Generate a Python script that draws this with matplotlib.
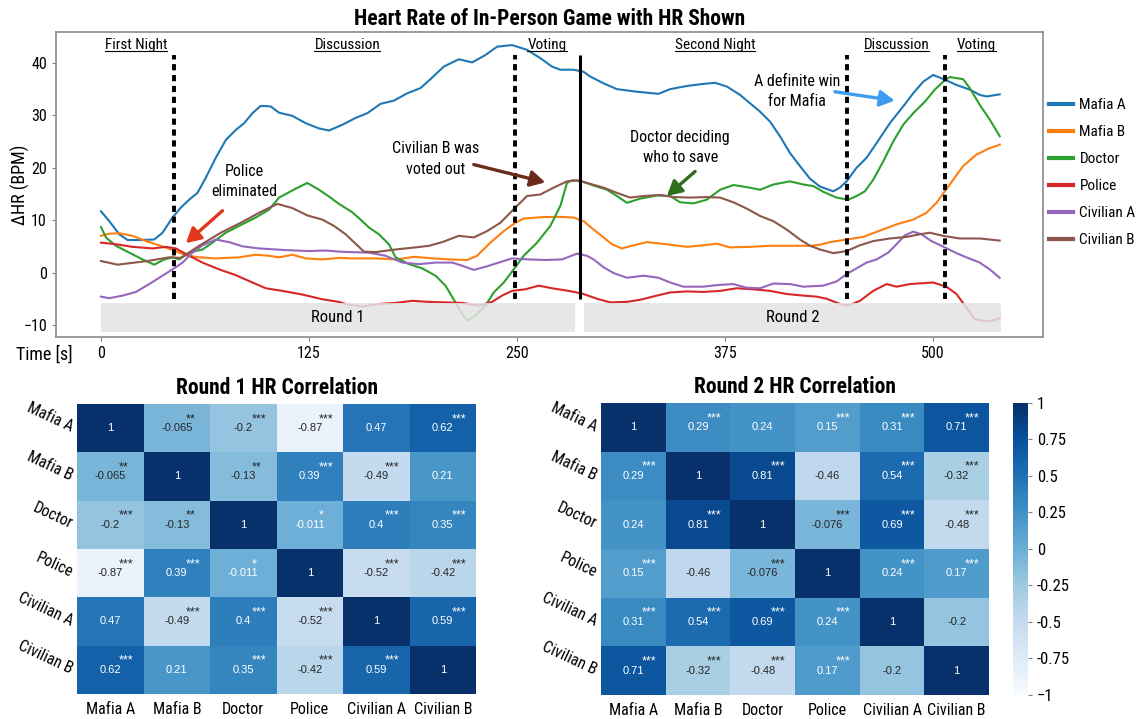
"""Heart rate of an in-person Mafia game (HR shown) plus per-round HR correlation heatmaps."""
import numpy as np
import matplotlib
matplotlib.use("Agg")
import matplotlib.pyplot as plt
from matplotlib import font_manager
from matplotlib.colors import Normalize
from matplotlib.patches import Rectangle
import seaborn as sns
from seaborn.utils import relative_luminance

_names = {f.name for f in font_manager.fontManager.ttflist}
NARROW = next((n for n in ["Liberation Sans Narrow", "Roboto Condensed", "Open Sans Condensed",
                           "Liberation Sans"] if n in _names), "DejaVu Sans")
plt.rcParams["font.family"] = [NARROW, "DejaVu Sans"]

# --- data -------------------------------------------------------------------------------
ROLES = ["Mafia A", "Mafia B", "Doctor", "Police", "Civilian A", "Civilian B"]
COLORS = ["#1f77b4", "#ff7f0e", "#2ca02c", "#d62728", "#9467bd", "#8c564b"]

# (time [s], delta HR [BPM])
MAFIA_A = [(0, 11.7), (5, 9.8), (11, 7.3), (16, 6.2), (23, 6.2), (32, 6.3), (37, 7.6), (43, 10.5),
           (48, 12.4), (53, 13.9), (58, 15.2), (63, 18.1), (69, 21.9), (75, 25.3), (81, 27.2),
           (86, 28.5), (91, 30.4), (96, 31.8), (102, 31.7), (107, 30.5), (115, 29.9), (123, 28.5),
           (131, 27.5), (137, 27.1), (145, 28.2), (153, 29.5), (160, 30.4), (168, 32.2), (176, 32.8),
           (184, 34.2), (192, 35.2), (198, 36.9), (206, 39.3), (215, 40.7), (223, 40.1), (231, 41.5),
           (238, 43.1), (247, 43.4), (256, 42.5), (264, 40.9), (271, 39.3), (276, 38.7), (284, 38.7),
           (290, 38.3), (294, 37.4), (302, 36.1), (310, 35.0), (322, 34.5), (335, 34.1), (342, 35.0),
           (352, 35.6), (362, 36.0), (369, 36.2), (376, 35.5), (384, 33.9), (390, 32.3), (396, 30.7),
           (402, 28.8), (408, 26.0), (414, 22.8), (420, 20.3), (426, 17.9), (432, 16.4), (440, 15.5),
           (444, 16.2), (448, 17.4), (454, 20.0), (460, 21.9), (466, 24.7), (474, 28.5), (482, 31.7),
           (488, 34.2), (494, 36.4), (500, 37.7), (507, 36.8), (514, 35.8), (522, 34.9), (528, 33.9),
           (532, 33.6), (540, 34.0)]
MAFIA_B = [(0, 7.0), (5, 7.4), (11, 7.5), (19, 7.0), (27, 6.0), (35, 5.2), (43, 4.3), (51, 3.3),
           (59, 2.9), (69, 2.7), (83, 2.9), (93, 3.4), (101, 3.2), (107, 2.9), (115, 3.4), (123, 2.7),
           (133, 2.5), (143, 2.8), (150, 2.7), (164, 2.7), (178, 2.5), (188, 3.0), (200, 2.7),
           (210, 2.5), (220, 2.4), (226, 3.2), (234, 5.7), (242, 7.9), (249, 9.5), (254, 10.3),
           (266, 10.6), (278, 10.6), (284, 10.5), (290, 9.8), (296, 8.2), (302, 6.7), (307, 5.4),
           (313, 4.6), (320, 5.2), (328, 5.8), (340, 5.4), (352, 4.9), (362, 5.2), (370, 5.5),
           (378, 4.8), (390, 4.9), (402, 5.1), (418, 5.1), (426, 5.1), (432, 5.3), (438, 5.8),
           (448, 6.3), (458, 6.8), (468, 8.0), (478, 9.2), (488, 10.1), (496, 11.4), (502, 13.3),
           (507, 15.5), (512, 17.7), (518, 20.3), (526, 22.5), (533, 23.6), (540, 24.4)]
DOCTOR = [(0, 8.7), (3, 6.7), (9, 5.1), (17, 3.8), (25, 2.5), (32, 1.5), (38, 2.5), (43, 2.9),
          (47, 2.5), (53, 3.8), (61, 4.4), (67, 5.7), (75, 7.6), (83, 8.9), (93, 10.5), (101, 12.0),
          (107, 14.3), (117, 16.0), (124, 17.1), (131, 15.8), (137, 14.5), (143, 13.1), (151, 11.5),
          (157, 9.8), (161, 8.6), (167, 7.3), (173, 5.4), (177, 2.9), (185, 1.6), (193, 0.8),
          (201, -0.6), (207, -2.5), (213, -5.7), (217, -7.9), (220, -9.1), (225, -8.2), (231, -6.3),
          (236, -3.8), (242, -1.9), (248, 0.6), (254, 3.2), (262, 5.7), (270, 8.9), (276, 12.7),
          (280, 17.1), (283, 17.6), (289, 17.4), (296, 16.6), (304, 15.8), (310, 14.6), (316, 13.3),
          (324, 14.1), (334, 14.7), (342, 14.6), (348, 13.4), (356, 13.2), (364, 13.9), (372, 15.8),
          (380, 16.7), (388, 16.3), (396, 15.8), (404, 16.8), (414, 17.4), (422, 16.8), (428, 16.5),
          (434, 15.4), (442, 14.3), (449, 13.9), (454, 14.6), (459, 15.5), (464, 17.7), (470, 21.2),
          (476, 25.0), (482, 28.2), (488, 30.4), (495, 32.6), (501, 34.9), (506, 36.4), (510, 37.3),
          (518, 36.9), (522, 35.2), (528, 32.0), (534, 29.2), (540, 26.0)]
POLICE = [(0, 5.7), (9, 5.4), (19, 4.9), (31, 4.6), (39, 4.9), (45, 4.6), (53, 3.2), (61, 1.9),
          (71, 0.6), (81, -0.5), (91, -1.9), (99, -3.0), (109, -3.5), (121, -4.2), (133, -5.1),
          (143, -5.6), (147, -6.0), (157, -6.5), (167, -6.0), (177, -5.8), (187, -5.4), (197, -5.6),
          (207, -5.7), (217, -5.8), (227, -6.3), (235, -5.6), (241, -4.4), (247, -3.5), (255, -3.2),
          (263, -2.5), (271, -3.0), (281, -3.5), (289, -4.0), (298, -5.0), (306, -5.7), (316, -5.6),
          (324, -5.2), (334, -4.4), (342, -3.8), (352, -3.6), (362, -3.7), (372, -3.5), (382, -3.0),
          (392, -3.2), (402, -3.5), (412, -4.1), (422, -4.4), (430, -4.6), (436, -5.0), (444, -6.0),
          (449, -6.3), (456, -5.4), (464, -3.5), (472, -2.2), (478, -2.7), (486, -2.2), (500, -1.9),
          (508, -2.7), (514, -4.1), (520, -6.7), (525, -8.9), (532, -9.3), (537, -9.1), (540, -8.7)]
CIVILIAN_A = [(0, -4.6), (5, -4.9), (13, -4.4), (21, -3.7), (29, -2.2), (37, -0.6), (44, 0.8),
              (49, 1.9), (55, 3.8), (61, 5.2), (69, 6.3), (77, 5.8), (85, 5.0), (95, 4.6),
              (110, 4.3), (125, 4.1), (135, 4.2), (143, 4.0), (150, 3.9), (161, 3.8), (171, 3.2),
              (181, 1.9), (191, 1.6), (201, 1.9), (211, 1.9), (217, 1.3), (224, 0.5), (231, 1.1),
              (239, 1.9), (247, 2.7), (257, 2.5), (267, 2.4), (277, 2.5), (286, 3.6), (292, 3.2),
              (296, 2.5), (302, 1.0), (308, -0.1), (316, -1.0), (326, -0.6), (335, -1.0), (342, -1.9),
              (350, -2.7), (362, -2.7), (370, -2.4), (380, -2.2), (388, -2.9), (396, -3.0),
              (404, -2.1), (414, -2.2), (422, -2.7), (434, -2.5), (442, -1.7), (448, -0.3), (454, 0.8),
              (460, 1.9), (466, 2.5), (473, 3.8), (478, 5.4), (483, 7.1), (488, 7.8), (493, 7.3),
              (499, 6.0), (507, 4.8), (514, 3.7), (520, 2.9), (528, 1.9), (534, 0.6), (540, -1.0)]
CIVILIAN_B = [(0, 2.2), (10, 1.5), (28, 2.2), (41, 2.9), (48, 2.8), (59, 5.1), (72, 7.6), (84, 9.5),
              (95, 11.4), (106, 13.1), (115, 12.3), (124, 10.9), (133, 10.1), (140, 8.9), (147, 7.3),
              (153, 5.5), (158, 4.0), (165, 3.9), (177, 4.4), (189, 4.8), (197, 5.1), (205, 5.8),
              (215, 7.0), (224, 6.7), (232, 7.9), (240, 9.5), (249, 12.4), (256, 14.6), (264, 14.9),
              (272, 16.2), (280, 17.4), (286, 17.6), (292, 17.1), (302, 16.2), (310, 15.2),
              (318, 14.3), (326, 14.6), (336, 14.8), (344, 14.4), (354, 14.3), (364, 14.4),
              (372, 14.3), (380, 13.4), (388, 12.2), (396, 10.8), (404, 9.8), (412, 8.2), (420, 6.3),
              (426, 5.1), (432, 4.4), (440, 3.7), (448, 4.1), (456, 5.2), (464, 6.0), (474, 6.5),
              (484, 6.8), (492, 7.3), (498, 7.6), (506, 7.0), (516, 6.5), (528, 6.5), (540, 6.1)]
SERIES = [MAFIA_A, MAFIA_B, DOCTOR, POLICE, CIVILIAN_A, CIVILIAN_B]

PHASE_DIVIDERS = [44, 249, 448, 507]      # dashed lines
ROUND_DIVIDER = 288                        # solid line
PHASES = [("First Night", 21), ("Discussion", 148), ("Voting", 268),
          ("Second Night", 369), ("Discussion", 478), ("Voting", 526)]
ROUNDS = [("Round 1", 0, 285), ("Round 2", 290, 541)]

ROUND1_R = [[1, -0.065, -0.2, -0.87, 0.47, 0.62],
            [-0.065, 1, -0.13, 0.39, -0.49, 0.21],
            [-0.2, -0.13, 1, -0.011, 0.4, 0.35],
            [-0.87, 0.39, -0.011, 1, -0.52, -0.42],
            [0.47, -0.49, 0.4, -0.52, 1, 0.59],
            [0.62, 0.21, 0.35, -0.42, 0.59, 1]]
ROUND1_SIG = [["", "**", "***", "***", "", "***"],
              ["**", "", "**", "***", "***", ""],
              ["***", "**", "", "*", "***", "***"],
              ["***", "***", "*", "", "***", "***"],
              ["", "***", "***", "***", "", "***"],
              ["***", "", "***", "***", "***", ""]]
ROUND2_R = [[1, 0.29, 0.24, 0.15, 0.31, 0.71],
            [0.29, 1, 0.81, -0.46, 0.54, -0.32],
            [0.24, 0.81, 1, -0.076, 0.69, -0.48],
            [0.15, -0.46, -0.076, 1, 0.24, 0.17],
            [0.31, 0.54, 0.69, 0.24, 1, -0.2],
            [0.71, -0.32, -0.48, 0.17, -0.2, 1]]
ROUND2_SIG = [["", "***", "", "***", "***", "***"],
              ["***", "", "***", "", "***", "***"],
              ["", "***", "", "***", "***", "***"],
              ["***", "", "***", "", "***", "***"],
              ["***", "***", "***", "***", "", ""],
              ["***", "***", "***", "***", "", ""]]

CBAR_TICKS = [-1, -0.75, -0.5, -0.25, 0, 0.25, 0.5, 0.75, 1]
CBAR_LABELS = ["\u22121", "-0.75", "-0.5", "-0.25", "0", "0.25", "0.5", "0.75", "1"]

# --- figure -------------------------------------------------------------------------------
fig = plt.figure(figsize=(11.41, 7.19), dpi=100)
ax = fig.add_axes([0.0491, 0.5313, 0.865, 0.4242])

for data, name, c in zip(SERIES, ROLES, COLORS):
    t, hr = np.array(data).T
    ax.plot(t, hr, color=c, lw=1.5, label=name, zorder=2)

for x in PHASE_DIVIDERS:
    ax.vlines(x, -5.0, 41.5, colors="black", linestyles=(0, (1.6, 1.2)), lw=2.8, zorder=4)
ax.vlines(ROUND_DIVIDER, -5.0, 41.5, colors="black", lw=2.2, zorder=4)

for label, x0, x1 in ROUNDS:
    ax.add_patch(Rectangle((x0, -11.35), x1 - x0, 5.5, facecolor="#e3e3e3", alpha=0.85,
                           edgecolor="none", zorder=3))
    ax.text((x0 + x1) / 2, -8.6, label, ha="center", va="center", fontsize=12, zorder=5)

phase_txt = [ax.text(x, 42.6, s, ha="center", va="baseline", fontsize=11) for s, x in PHASES]

# annotations: (text, text pos, arrow tail, arrow head, colour)
NOTES = [("Police\neliminated", (86, 17.4), (73, 11.8), (51, 5.6), "#e4361f"),
         ("Civilian B was\nvoted out", (201, 21.7), (224, 20.6), (267, 17.2), "#6b2b1c"),
         ("Doctor deciding\nwho to save", (348, 23.9), (357, 19.3), (340, 14.6), "#2f6e1e"),
         ("A definite win\nfor Mafia", (418, 34.5), (441, 34.5), (477, 32.8), "#3d9cf0")]
for s, tp, tail, head, c in NOTES:
    ax.text(*tp, s, ha="center", va="center", fontsize=11.5, linespacing=1.45, zorder=5)
    ax.annotate("", xy=head, xytext=tail,
                arrowprops=dict(arrowstyle="-|>,head_length=0.55,head_width=0.3", color=c,
                                lw=2.4, mutation_scale=16, shrinkA=0, shrinkB=0), zorder=5)

ax.set_xlim(-27, 566)
ax.set_ylim(-12.3, 45.9)
ax.set_xticks([0, 125, 250, 375, 500])
ax.set_yticks([-10, 0, 10, 20, 30, 40])
ax.tick_params(labelsize=11.5, color="#7f7f7f", length=3)
for sp in ax.spines.values():
    sp.set_color("#8a8a8a")
    sp.set_linewidth(1.2)
ax.set_ylabel("\u0394HR (BPM)", fontsize=13)
ax.yaxis.set_label_coords(-0.0265, 0.5)
fig.text(16 / 1141, 1 - 355 / 719, "Time [s]", fontsize=13, va="center", ha="left")
ax.set_title("Heart Rate of In-Person Game with HR Shown", fontsize=15.5, fontweight="bold", pad=5)

leg = ax.legend(loc="center left", bbox_to_anchor=(1.006, 0.538), frameon=False, fontsize=11,
                borderaxespad=0, borderpad=0, handlelength=1.6, handletextpad=0.4,
                labelspacing=0.85)
for h in leg.get_lines():
    h.set_linewidth(3)

# underline the phase names
fig.canvas.draw()
renderer = fig.canvas.get_renderer()
inv = ax.transData.inverted()
for txt in phase_txt:
    bb = txt.get_window_extent(renderer)
    (x0, _), (x1, _) = inv.transform([[bb.x0, bb.y0], [bb.x1, bb.y1]])
    ax.plot([x0, x1], [42.25, 42.25], color="black", lw=0.8, clip_on=False)

# --- correlation heatmaps ----------------------------------------------------------------
cmap = plt.get_cmap("Blues")
norm = Normalize(-1, 1)


def corr_heatmap(hax, mat, sig, title, cax=None):
    sns.heatmap(np.array(mat), ax=hax, cmap=cmap, vmin=-1, vmax=1, annot=True, fmt=".2g",
                annot_kws=dict(size=8, family="Liberation Sans"), cbar=cax is not None,
                cbar_ax=cax, xticklabels=ROLES, yticklabels=ROLES)
    for i, row in enumerate(mat):
        for j, v in enumerate(row):
            if sig[i][j]:
                col = ".15" if relative_luminance(cmap(norm(v))) > .408 else "w"
                hax.text(j + 0.63, i + 0.31, sig[i][j], ha="left", va="center", fontsize=9,
                         color=col, family="Liberation Sans")
    hax.set_title(title, fontsize=15.5, fontweight="bold", pad=7)
    hax.tick_params(length=0, labelsize=11.5)
    hax.tick_params(axis="x", pad=6)
    for lab in hax.get_yticklabels():
        lab.set_rotation(-25)
        lab.set_ha("right")
        lab.set_va("center")
        lab.set_rotation_mode("anchor")


h1 = fig.add_axes([0.0675, 0.0348, 0.3497, 0.4033])
corr_heatmap(h1, ROUND1_R, ROUND1_SIG, "Round 1 HR Correlation")

h2 = fig.add_axes([0.5267, 0.0334, 0.3401, 0.4061])
cax = fig.add_axes([0.8878, 0.0334, 0.0131, 0.4061])
corr_heatmap(h2, ROUND2_R, ROUND2_SIG, "Round 2 HR Correlation", cax=cax)
cbar = h2.collections[0].colorbar
cbar.set_ticks(CBAR_TICKS)
cbar.set_ticklabels(CBAR_LABELS)
cbar.outline.set_visible(False)
cbar.ax.tick_params(labelsize=12, length=3, color="#7f7f7f")

fig.savefig("out.png", dpi=100)
